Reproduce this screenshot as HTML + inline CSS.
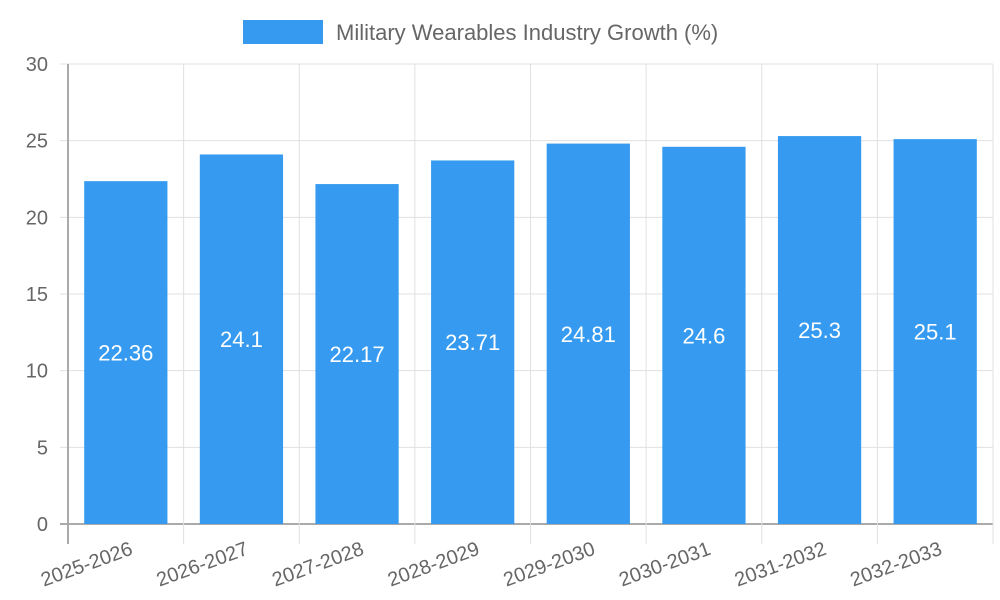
<!DOCTYPE html>
<html><head><meta charset="utf-8"><style>
html,body{margin:0;padding:0;background:#fff;}
svg{display:block;font-family:"Liberation Sans",sans-serif;}
</style></head><body>
<svg id="chart" width="1000" height="600">
<rect x="243" y="20" width="80" height="24" fill="#369bf0"/>
<text x="336" y="40" font-size="22" fill="#666">Military Wearables Industry Growth (%)</text>
<g id="grid"></g><g id="bars"></g><g id="labels"></g>
</svg>
<script>
const categories=["2025-2026","2026-2027","2027-2028","2028-2029","2029-2030","2030-2031","2031-2032","2032-2033"];
const values=[22.36,24.1,22.17,23.71,24.81,24.6,25.3,25.1];
const yTicks=[0,5,10,15,20,25,30];
const L=68,R=993,T=64,B=524,YMAX=30;
const bw=(R-L)/categories.length;
const y=v=>B-(v/YMAX)*(B-T);
const xc=i=>L+bw*(i+0.5);
const NS="http://www.w3.org/2000/svg";
function mk(tag,attrs,parent,txt){const e=document.createElementNS(NS,tag);for(const k in attrs)e.setAttribute(k,attrs[k]);if(txt!==undefined)e.textContent=txt;parent.appendChild(e);return e;}
const grid=document.getElementById('grid'),bars=document.getElementById('bars'),labels=document.getElementById('labels');
yTicks.forEach(t=>{
 const g=mk('line',{x1:L-8,x2:R,y1:y(t),y2:y(t),stroke:t===0?'#aaa':'#e0e0e0','stroke-width':t===0?2:1},grid);
 
 
 const tx=mk('text',{x:L-20,y:y(t)+7,'text-anchor':'end','font-size':20,fill:'#666'},grid,String(t));
 
 
});
for(let i=0;i<=categories.length;i++){
 const x=L+bw*i;
 const g=mk('line',{x1:x,x2:x,y1:T,y2:B+20,stroke:i===0?'#aaa':'#e0e0e0','stroke-width':i===0?2:1},grid);
 
 
}
categories.forEach((c,i)=>{
 const w=bw*0.72;
 const r=mk('rect',{x:xc(i)-w/2,y:y(values[i]),width:w,height:B-y(values[i]),fill:'#369bf0'},bars);
 
 
 const v=mk('text',{x:xc(i),y:(y(values[i])+B)/2+8,'text-anchor':'middle','font-size':22,fill:'#fff'},labels,String(values[i]));
 
 
 const t=mk('text',{x:xc(i)+8,y:B+30,'text-anchor':'end','font-size':20,fill:'#666',transform:`rotate(-20 ${xc(i)+8} ${B+30})`},labels,c);
 
 
});
</script>
</body></html>
